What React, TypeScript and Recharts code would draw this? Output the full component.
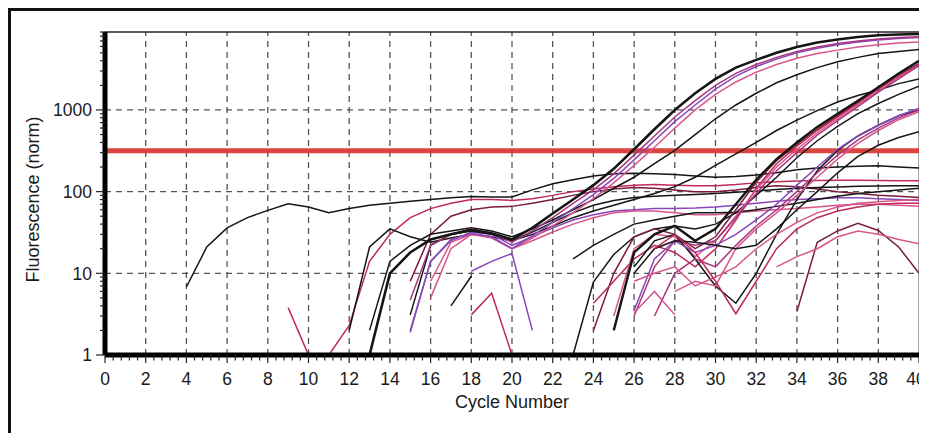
import { LineChart, Line, XAxis, YAxis, ReferenceLine, Label } from "recharts";

// amplification curves: first cycle + fluorescence per cycle
const l1 = [6.8, 21, 36, 48, 59, 71, 65, 55, 62, 68, 72, 76, 80, 84, 87, 86, 86, 105, 125, 140, 155, 165, 168, 166, 162, 155, 150, 153, 160, 170, 185, 195, 200, 205, 207, 200, 195];
const m1 = [3.8, 1, 1, 2.3, 14, 30, 48, 62, 72, 80, 80, 78, 82, 90, 100, 108, 115, 120, 122, 120, 118, 118, 122, 128, 132, 135, 137, 138, 138, 137, 136, 136];
const m2 = [8, 30, 50, 60, 65, 66, 72, 80, 90, 100, 108, 112, 110, 105, 100, 100, 105, 112, 118, 115, 108, 100, 95, 90, 88, 85];
const m3 = [2, 21, 35, 28, 24, 27, 30, 28, 25, 32, 42, 55, 68, 78, 85, 88, 90, 92, 95, 98, 102, 106, 110, 112, 114, 116, 117, 118, 118];
const m4 = [2, 14, 25, 32, 30, 22, 28, 36, 45, 52, 58, 60, 62, 62, 63, 65, 68, 72, 76, 80, 82, 84, 84, 82, 80, 78];
const m5 = [5, 20, 30, 28, 20, 25, 32, 40, 48, 55, 58, 58, 55, 52, 52, 55, 58, 60, 62, 65, 68, 70, 70, 68, 66];
const a1 = [1, 10, 18, 26, 30, 34, 31, 26, 36, 54, 80, 120, 190, 330, 580, 1000, 1600, 2400, 3300, 4100, 5000, 5900, 6700, 7300, 7800, 8200, 8400, 8500];
const a2 = [4.7, 22, 30, 35, 31, 24, 33, 48, 72, 105, 165, 280, 480, 820, 1300, 2000, 2800, 3600, 4400, 5200, 5900, 6500, 7000, 7400, 7700, 7900];
const a3 = [1.9, 14, 26, 31, 28, 20, 29, 42, 62, 92, 145, 245, 420, 720, 1150, 1800, 2600, 3400, 4200, 5000, 5700, 6300, 6800, 7200, 7500, 7700];
const a4 = [8, 24, 30, 27, 20, 27, 38, 55, 82, 128, 210, 350, 600, 1000, 1550, 2200, 2900, 3600, 4300, 4900, 5400, 5900, 6300, 6600, 6800];
const a5 = [2, 14, 22, 30, 33, 36, 33, 28, 35, 45, 60, 80, 110, 150, 220, 320, 500, 780, 1150, 1600, 2150, 2700, 3300, 3900, 4400, 4900, 5200, 5500];
const b1 = [3.1, 22, 30, 33, 30, 25, 30, 38, 48, 58, 68, 80, 95, 115, 150, 210, 290, 400, 560, 750, 980, 1250, 1500, 1750, 2100, 2400];
const p1 = [10.6, 14, 17.5, 2];
const s1 = [4, 9.2];
const s2 = [3.1, 5.7, 1];
const e1 = [1, 7.8, 17, 28, 35, 38, 35, 40, 55, 90, 150, 260, 420, 630, 900, 1200, 1550, 1950];
const e2 = [15, 22, 30, 40, 45, 50, 55, 55, 56, 60, 66, 72, 80, 88, 95, 100, 105, 110];
const e3 = [2, 10, 28, 35, 30, 20, 28, 60, 130, 240, 380, 580, 850, 1250, 1850, 2700, 3700];
const e4 = [4.3, 8, 15, 22, 18, 12, 20, 45, 110, 220, 360, 560, 820, 1200, 1800, 2600, 3600];
const e5 = [3, 20, 30, 28, 16, 25, 50, 105, 200, 330, 520, 780, 1150, 1700, 2500, 3500];
const e6 = [2, 18, 30, 38, 25, 35, 70, 140, 250, 400, 620, 900, 1300, 1900, 2800, 4000];
const e7 = [3, 12, 25, 22, 25, 48, 95, 180, 300, 490, 740, 1100, 1650, 2400, 3500];
const e9 = [12, 25, 30, 15, 7, 4.3, 10, 30, 80, 180, 320, 480, 650, 850, 1000];
const e10 = [3.5, 15, 25, 18, 22, 30, 45, 70, 120, 200, 330, 480, 650, 850, 1050];
const e11 = [3, 10, 15, 12, 22, 38, 60, 100, 170, 280, 430, 600, 800, 1000];
const e12 = [6, 8, 7, 20, 35, 55, 90, 150, 250, 390, 560, 760, 950];
const e13 = [10, 20, 25, 24, 22, 20, 22, 35, 60, 100, 170, 270, 370, 460, 540];
const e14 = [3.3, 6, 3.1];
const e15 = [8, 10, 12, 7, 9, 12, 20, 30, 42, 55, 65, 72, 75, 78, 80];
const e16 = [20, 30, 18, 8, 3.2, 8, 20, 35, 48, 58, 65, 70, 72, 72];
const e17 = [3.4, 24, 33, 41, 33.5, 21, 10];
const e18 = [12, 16, 20, 28, 33, 30, 26, 23];

const threshold = 316;
const xMajor = [0, 2, 4, 6, 8, 10, 12, 14, 16, 18, 20, 22, 24, 26, 28, 30, 32, 34, 36, 38, 40];
const yMajor = [1, 10, 100, 1000];

const BLACK = "#151515";
const MAROON = "#7a1b3c";
const RED = "#c02b55";
const PINK = "#d9558d";
const MAGENTA = "#a8367f";
const PURPLE = "#8848b8";

const curves = [
  { id: "l1", start: 4, values: l1, color: BLACK },
  { id: "m1", start: 9, values: m1, color: RED },
  { id: "m2", start: 15, values: m2, color: MAROON },
  { id: "m3", start: 12, values: m3, color: BLACK },
  { id: "m4", start: 15, values: m4, color: PURPLE },
  { id: "m5", start: 16, values: m5, color: PINK },
  { id: "b1", start: 15, values: b1, color: BLACK },
  { id: "p1", start: 18, values: p1, color: PURPLE },
  { id: "s1", start: 17, values: s1, color: BLACK },
  { id: "s2", start: 18, values: s2, color: RED },
  { id: "e1", start: 23, values: e1, color: BLACK },
  { id: "e2", start: 23, values: e2, color: BLACK },
  { id: "e3", start: 24, values: e3, color: MAROON },
  { id: "e4", start: 24, values: e4, color: RED },
  { id: "e5", start: 25, values: e5, color: PINK },
  { id: "e7", start: 26, values: e7, color: MAGENTA },
  { id: "e9", start: 26, values: e9, color: BLACK },
  { id: "e10", start: 26, values: e10, color: PURPLE },
  { id: "e11", start: 27, values: e11, color: MAGENTA },
  { id: "e12", start: 28, values: e12, color: PINK },
  { id: "e13", start: 26, values: e13, color: BLACK },
  { id: "e14", start: 26, values: e14, color: PINK },
  { id: "e15", start: 26, values: e15, color: PINK },
  { id: "e16", start: 27, values: e16, color: RED },
  { id: "e17", start: 34, values: e17, color: MAROON },
  { id: "e18", start: 33, values: e18, color: PINK },
  { id: "a5", start: 13, values: a5, color: BLACK },
  { id: "a4", start: 16, values: a4, color: PINK },
  { id: "a3", start: 15, values: a3, color: PURPLE },
  { id: "a2", start: 15, values: a2, color: MAGENTA },
  { id: "e6", start: 25, values: e6, color: BLACK, width: 2.4 },
  { id: "a1", start: 13, values: a1, color: BLACK, width: 2.6 },
];

const rows = [];
for (let c = 0; c <= 40; c++) {
  const row: any = { cycle: c };
  curves.forEach((s) => {
    const i = c - s.start;
    if (i >= 0 && i < s.values.length) row[s.id] = s.values[i];
  });
  rows.push(row);
}

const xTicks = Array.from({ length: 101 }, (_, i) => Math.round(i * 4) / 10);
const yTicks = [1, 2, 3, 4, 5, 6, 7, 8, 9].flatMap((d) => [d, d * 10, d * 100, d * 1000]).sort((a, b) => a - b);
const gridX = xMajor.filter((v) => v > 0 && v < 40);

const font = "'Liberation Sans', Arial, sans-serif";

function XTick(props: any) {
  const { x, y, payload } = props;
  const v = payload.value;
  const major = xMajor.includes(v);
  // keep the last label inside the page
  const tx = v === 40 ? x - 3 : x;
  return (
    <g>
      <line x1={x} x2={x} y1={y} y2={y + (major ? 8 : 5.5)} stroke="#222" strokeWidth={1.2} />
      {major && (
        <text x={tx} y={y + 30} textAnchor="middle" fontSize={17.5} fill="#1a1a1a" fontFamily={font}>
          {v}
        </text>
      )}
    </g>
  );
}

function YTick(props: any) {
  const { x, y, payload } = props;
  const v = payload.value;
  const major = yMajor.includes(v);
  return (
    <g>
      <line x1={x - (major ? 9 : 5)} x2={x} y1={y} y2={y} stroke="#222" strokeWidth={1.2} />
      {major && (
        <text x={x - 13} y={y} dy="0.36em" textAnchor="end" fontSize={17.5} fill="#1a1a1a" fontFamily={font}>
          {v}
        </text>
      )}
    </g>
  );
}

export default function App() {
  return (
    <div style={{ width: 940, height: 450, border: "3px solid #111", boxSizing: "border-box" }}>
      <style>{"body{overflow:hidden}"}</style>
      <LineChart width={916} height={410} data={rows} margin={{ top: 21, right: 8, left: 0, bottom: 16 }}>
        <XAxis
          dataKey="cycle"
          type="number"
          domain={[0, 40]}
          ticks={xTicks}
          interval={0}
          tickSize={0}
          tickMargin={0}
          tickLine={false}
          tick={XTick}
          height={50}
          axisLine={{ stroke: "#000", strokeWidth: 5 }}
        >
          <Label
            content={(p: any) => (
              <text
                x={p.viewBox.x + p.viewBox.width / 2}
                y={p.viewBox.y + 53}
                textAnchor="middle"
                fontSize={18}
                fill="#1a1a1a"
                fontFamily={font}
              >
                Cycle Number
              </text>
            )}
          />
        </XAxis>
        <YAxis
          scale="log"
          type="number"
          domain={[1, 9000]}
          allowDataOverflow
          ticks={yTicks}
          interval={0}
          tickSize={0}
          tickMargin={0}
          tickLine={false}
          tick={YTick}
          width={94}
          axisLine={{ stroke: "#000", strokeWidth: 5 }}
        >
          <Label
            content={(p: any) => (
              <text
                transform={`translate(28, ${p.viewBox.y + p.viewBox.height / 2 + 6}) rotate(-90)`}
                textAnchor="middle"
                fontSize={18}
                fill="#1a1a1a"
                fontFamily={font}
              >
                Fluorescence (norm)
              </text>
            )}
          />
        </YAxis>
        {gridX.map((v) => (
          <ReferenceLine key={"gx" + v} x={v} stroke="#555" strokeWidth={1.3} strokeDasharray="6 5" />
        ))}
        {[10, 100, 1000].map((v) => (
          <ReferenceLine key={"gy" + v} y={v} stroke="#555" strokeWidth={1.3} strokeDasharray="6 5" />
        ))}
        <ReferenceLine y={9000} stroke="#222" strokeWidth={1.5} />
        <ReferenceLine x={40} stroke="#888" strokeWidth={1.5} />
        <ReferenceLine y={threshold} stroke="#d8342c" strokeWidth={5} strokeOpacity={0.92} />
        {curves.map((s) => (
          <Line
            key={s.id}
            dataKey={s.id}
            type="linear"
            stroke={s.color}
            strokeWidth={s.width || 1.5}
            dot={false}
            activeDot={false}
            isAnimationActive={false}
          />
        ))}
      </LineChart>
    </div>
  );
}
